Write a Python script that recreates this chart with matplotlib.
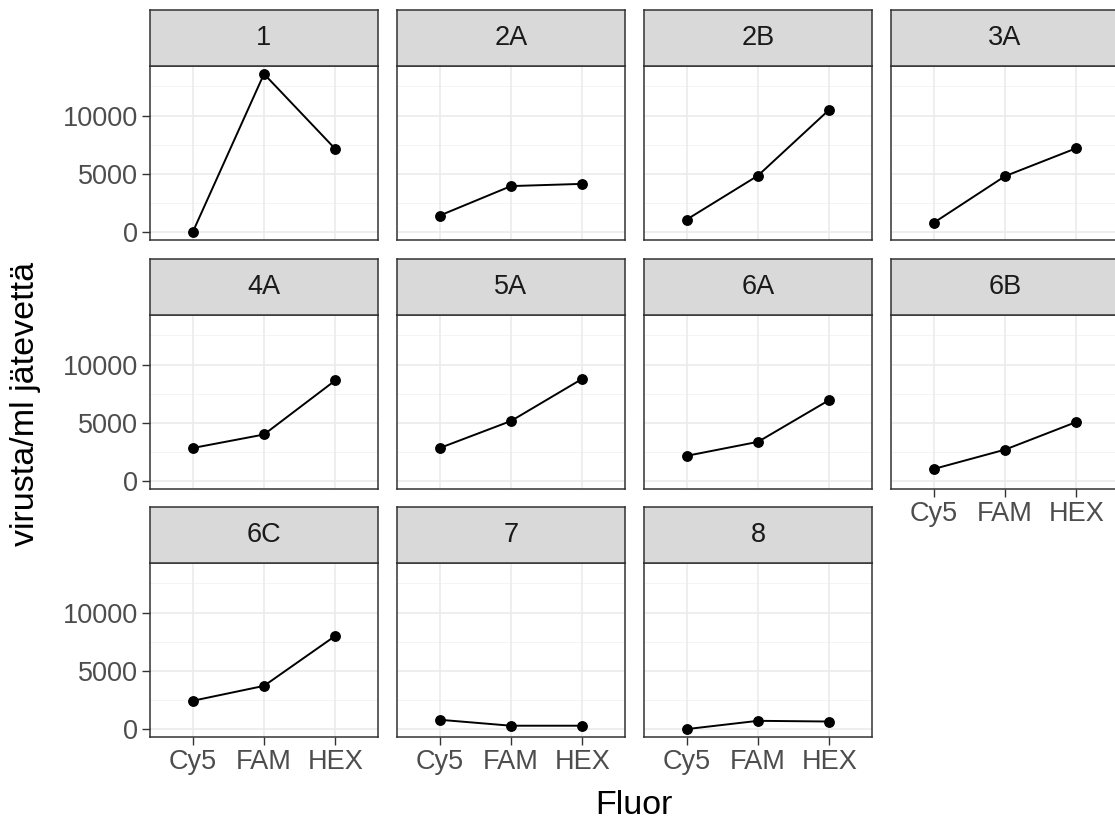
import numpy as np
import matplotlib
matplotlib.use("Agg")
import matplotlib.pyplot as plt

plt.rcParams['font.family'] = ['Liberation Sans', 'DejaVu Sans']

# virus counts per sampling site, one list per fluorophore
sites = ['1', '2A', '2B', '3A', '4A', '5A', '6A', '6B', '6C', '7', '8']
fluors = ['Cy5', 'FAM', 'HEX']
cy5 = [0, 1420, 1080, 800, 2840, 2840, 2170, 1040, 2430, 800, 0]
fam = [13580, 3950, 4850, 4800, 4000, 5160, 3370, 2700, 3710, 290, 710]
hex_ = [7140, 4140, 10510, 7200, 8640, 8780, 6960, 5070, 8000, 290, 650]

W, H = 1115, 823
fig = plt.figure(figsize=(W / 100, H / 100), dpi=100)

col_left = [150, 397, 644, 891]
row_top = [10, 259, 507]
pw, ph, sh = 228, 174, 56

ymax = max(max(cy5), max(fam), max(hex_))
pad = 0.05 * ymax
x = np.arange(1, len(fluors) + 1)

for i, site in enumerate(sites):
    r, c = divmod(i, 4)
    left = col_left[c]
    top = row_top[r]
    ax = fig.add_axes([left / W, 1 - (top + sh + ph) / H, pw / W, ph / H])
    st = fig.add_axes([left / W, 1 - (top + sh) / H, pw / W, sh / H])

    # strip
    st.set_facecolor('#D9D9D9')
    st.set_xticks([])
    st.set_yticks([])
    for s in st.spines.values():
        s.set_color('#333333')
        s.set_linewidth(1.1)
    st.text(0.5, 0.5, site, ha='center', va='center', fontsize=19.5,
            color='#1A1A1A', transform=st.transAxes)

    # panel
    vals = [cy5[i], fam[i], hex_[i]]
    ax.set_xlim(0.4, 3.6)
    ax.set_ylim(-pad, ymax + pad)
    for yv in [2500, 7500, 12500]:
        ax.axhline(yv, color='#F2F2F2', lw=0.6, zorder=0)
    for yv in [0, 5000, 10000]:
        ax.axhline(yv, color='#EBEBEB', lw=1.2, zorder=0)
    for xv in x:
        ax.axvline(xv, color='#EBEBEB', lw=1.2, zorder=0)
    ax.plot(x, vals, color='black', lw=1.4, zorder=3)
    ax.plot(x, vals, 'o', color='black', ms=6.8, zorder=4)

    ax.set_yticks([0, 5000, 10000])
    ax.set_xticks(x)
    ax.tick_params(color='#333333', length=6, width=1.0, labelsize=19.5,
                   labelcolor='#4D4D4D', pad=2.5)
    for s in ax.spines.values():
        s.set_color('#333333')
        s.set_linewidth(1.1)

    if c == 0:
        ax.set_yticklabels(['0', '5000', '10000'])
    else:
        ax.tick_params(axis='y', left=False, labelleft=False)

    bottom_row = (r == 2) or (i + 4 >= len(sites))
    if bottom_row:
        ax.set_xticklabels(fluors)
    else:
        ax.tick_params(axis='x', bottom=False, labelbottom=False)

fig.text(26 / W, 1 - 404 / H, 'virusta/ml jätevettä', rotation=90,
         ha='center', va='center', fontsize=24.5)
fig.text(634 / W, 1 - 806 / H, 'Fluor', ha='center', va='center', fontsize=24.5)

fig.savefig('out.png', dpi=100)
